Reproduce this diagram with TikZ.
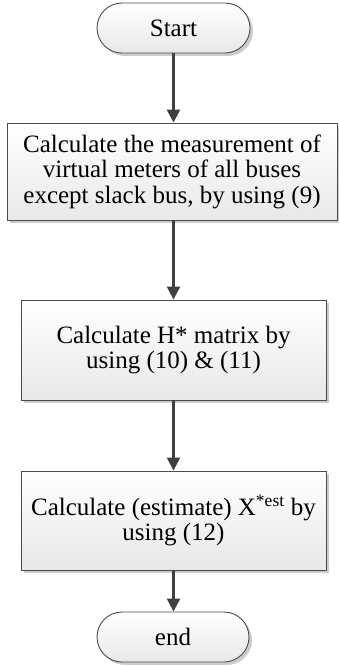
\documentclass[tikz,border=0pt]{standalone}
\usepackage{fontspec}
\setmainfont{Liberation Serif}
\usetikzlibrary{arrows.meta,shadows}
\tikzset{
  procbox/.style={draw=black!70, line width=0.9pt, top color=white, bottom color=black!9,
    align=center, font=\fontsize{25}{25.5}\selectfont, inner sep=0pt,
    drop shadow={shadow xshift=3pt, shadow yshift=-3pt, fill=black!20, opacity=1}},
  termbox/.style={procbox, rounded corners=25pt},
  flowarrow/.style={draw=black!75, line width=2.2pt, -{Triangle[length=13pt,width=13pt]}}
}
\begin{document}
\begin{tikzpicture}[x=1pt,y=-1pt]
\useasboundingbox (0,0) rectangle (339,666);
\node[termbox, minimum width=153pt, minimum height=50pt] (start) at (173.5,28) {Start};
\node[procbox, minimum width=330pt, minimum height=97pt] (b1) at (172,171.5)
  {Calculate the measurement of\\virtual meters of all buses\\except slack bus, by using (9)};
\node[procbox, minimum width=305pt, minimum height=100pt] (b2) at (173.5,350)
  {Calculate H* matrix by\\using (10) \& (11)};
\node[procbox, minimum width=305pt, minimum height=99pt] (b3) at (173.5,520.5)
  {Calculate (estimate) X\textsuperscript{*est} by\\using (12)};
\node[termbox, minimum width=152pt, minimum height=50pt] (end) at (173,637) {end};
\draw[flowarrow] (start.south) -- (start.south |- b1.north);
\draw[flowarrow] (b1.south -| b2.north) -- (b2.north);
\draw[flowarrow] (b2.south) -- (b3.north);
\draw[flowarrow] (b3.south) -- (b3.south |- end.north);
\end{tikzpicture}
\end{document}
